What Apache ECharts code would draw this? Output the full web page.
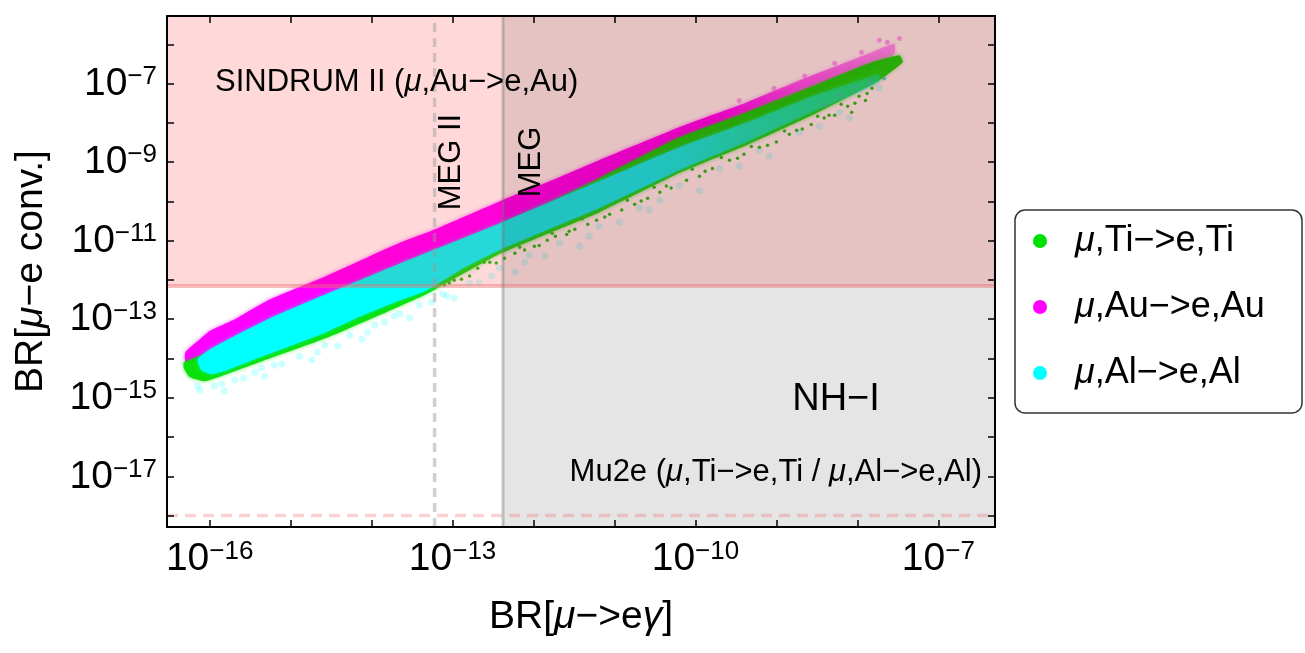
<!DOCTYPE html>
<html><head><meta charset="utf-8">
<script src="https://cdn.jsdelivr.net/npm/echarts@6/dist/echarts.min.js"></script>
<style>html,body{margin:0;padding:0;background:#fff}#c{width:1305px;height:653px}</style>
</head><body><div id="c"></div>
<script>
// ---------- data (log10 of branching ratios) ----------
const xLogRange = [-16.527, -6.30];           // log10 BR(mu->e gamma)
const yLogRange = [-18.29, -5.28];            // log10 BR(mu-e conversion)
const xTickDecades = [-16, -15, -14, -13, -12, -11, -10, -9, -8, -7];
const xLabelDecades = [-16, -13, -10, -7];
const yTickDecades = [-18, -17, -16, -15, -14, -13, -12, -11, -10, -9, -8, -7, -6];
const yLabelDecades = [-17, -15, -13, -11, -9, -7];

const mueGammaLimitNames = ['MEG', 'MEG II'];
const mueGammaLimitValues = [4.2e-13, 6e-14];
const conversionLimitNames = ['SINDRUM II', 'Mu2e'];
const conversionLimitValues = [7e-13, 1e-18];

const seriesNames = ['μ,Ti−>e,Ti', 'μ,Au−>e,Au', 'μ,Al−>e,Al'];

// dense regions of the scan points (outline)
const auBandOutline = [
  [-16.30,-13.84],[-16.12,-13.51],[-16.00,-13.30],[-15.67,-12.98],[-15.26,-12.50],[-14.64,-11.97],
  [-13.65,-11.05],[-13.25,-10.74],[-12.42,-10.00],[-11.84,-9.52],[-11.19,-8.95],[-10.20,-8.11],
  [-9.37,-7.48],[-8.56,-6.79],[-7.82,-6.20],[-7.54,-5.98],
  [-7.54,-6.25],[-7.82,-6.60],[-8.56,-7.30],[-9.37,-7.95],[-10.20,-8.65],[-11.19,-9.55],
  [-12.42,-10.70],[-13.65,-11.80],[-14.64,-12.70],[-15.26,-13.20],[-15.67,-13.55],[-16.00,-13.90],
  [-16.19,-14.06],[-16.30,-14.09]
];
const tiBandOutline = [
  [-16.32,-14.10],[-16.00,-13.84],[-14.64,-12.51],[-13.65,-11.65],[-12.42,-10.63],[-11.19,-9.41],
  [-10.20,-8.37],[-9.37,-7.73],[-8.56,-7.07],[-7.82,-6.46],[-7.48,-6.28],
  [-7.44,-6.46],[-7.73,-6.92],[-8.14,-7.37],[-8.56,-7.81],[-8.96,-8.19],[-9.37,-8.57],[-10.20,-9.28],
  [-11.19,-10.28],[-12.42,-11.34],[-13.32,-12.36],[-13.65,-12.67],[-14.56,-13.48],[-15.38,-14.09],
  [-15.79,-14.40],[-16.06,-14.58],[-16.25,-14.47],[-16.32,-14.24]
];
const alBandOutline = [
  [-16.15,-14.02],[-16.00,-13.77],[-15.67,-13.40],[-15.26,-12.98],[-14.64,-12.43],[-13.65,-11.58],
  [-12.42,-10.56],[-11.19,-9.49],[-10.20,-8.62],[-9.37,-7.99],[-8.56,-7.32],[-7.98,-6.92],[-7.73,-6.76],
  [-7.73,-6.97],[-7.98,-7.22],[-8.56,-7.73],[-9.37,-8.49],[-10.20,-9.21],[-11.19,-10.17],
  [-12.42,-11.24],[-12.91,-11.75],[-13.32,-12.26],[-13.65,-12.52],[-14.15,-12.94],[-14.56,-13.33],
  [-14.98,-13.66],[-15.38,-13.97],[-15.79,-14.30],[-15.98,-14.40],[-16.10,-14.30]
];

// sparse points at the edges of the distributions
const tiEdgePoints = [
  [-13.10,-12.13],[-12.98,-12.01],[-12.79,-11.90],[-12.69,-11.70],[-12.54,-11.55],[-12.36,-11.45],
  [-12.23,-11.32],[-12.11,-11.24],[-11.99,-11.14],[-11.83,-10.99],[-11.73,-10.89],[-11.59,-10.84],
  [-11.49,-10.71],[-11.33,-10.58],[-11.22,-10.48],[-11.06,-10.33],[-10.91,-10.22],[-10.75,-10.07],
  [-10.59,-9.92],[-10.44,-9.77],[-10.30,-9.66],[-10.11,-9.46],[-9.95,-9.36],[-9.79,-9.16],
  [-9.58,-8.95],[-9.40,-8.80],[-9.21,-8.62],[-9.00,-8.49],[-8.84,-8.29],[-8.75,-8.19],
  [-8.57,-8.04],[-8.41,-7.88],[-8.28,-7.81],[-8.12,-7.58],[-7.98,-7.32],[-7.82,-7.12],
  [-7.90,-7.43],[-8.07,-7.73],
  [-13.04,-12.08],[-12.89,-11.98],[-12.61,-11.55],[-12.46,-11.57],[-12.17,-11.17],[-11.93,-11.12],
  [-11.77,-10.81],[-11.56,-10.76],[-11.40,-10.45],[-11.12,-10.40],[-10.84,-9.97],[-10.67,-9.99],
  [-10.51,-9.64],[-10.36,-9.61],[-10.04,-9.18],[-9.88,-9.23],[-9.68,-8.88],[-9.48,-8.90],
  [-9.31,-8.60],[-9.11,-8.57],[-8.90,-8.21],[-8.68,-8.16],[-8.49,-7.83],[-8.35,-7.81],
  [-8.20,-7.53],[-8.03,-7.50],[-7.88,-7.25]
];
const alFaintPoints = [
  [-16.12,-14.80],[-15.94,-14.70],[-15.69,-14.55],[-15.44,-14.35],[-15.20,-14.17],[-14.89,-13.94],
  [-14.58,-13.66],[-14.27,-13.41],[-13.96,-13.15],[-13.65,-12.87],[-13.41,-12.64],[-13.12,-12.36],
  [-12.79,-12.08],[-12.42,-11.70],[-12.05,-11.37],[-11.68,-11.06],[-11.19,-10.63],[-10.69,-10.17],
  [-10.20,-9.61],[-9.70,-9.16],[-9.21,-8.70],[-8.72,-8.24],[-8.22,-7.73],[-7.73,-7.12],
  [-15.82,-14.83],[-15.32,-14.45],[-14.74,-14.04],[-14.12,-13.51],[-13.53,-12.97],[-12.98,-12.46],
  [-12.23,-11.80],[-11.43,-11.14],[-10.44,-9.97],[-9.46,-9.10],[-8.47,-8.09],
  [-16.15,-14.70],[-15.85,-14.65],[-15.58,-14.50],[-15.36,-14.24],[-15.11,-14.14],[-14.67,-13.84],
  [-14.42,-13.68],[-14.05,-13.33],[-13.84,-13.07],[-13.72,-12.92],[-13.26,-12.57],[-13.07,-12.41],
  [-12.67,-12.06],[-12.52,-11.90],[-12.11,-11.55],[-11.86,-11.39],[-11.31,-10.89],[-10.94,-10.53],
  [-10.57,-10.22],[-9.95,-9.72],[-9.09,-8.85],[-8.10,-7.88]
];
const alTopPoints = [
  [-8.22,-7.30],[-8.04,-7.07],[-7.85,-6.97],[-8.41,-7.53],[-7.67,-6.87]
];
const auFaintPoints = [
  [-9.46,-7.43],[-9.03,-7.12],[-8.65,-6.81],[-8.28,-6.48],[-7.95,-6.20],[-7.63,-5.95],
  [-7.48,-5.85],[-7.73,-5.90]
];

// ---------- styles ----------
const FONT = '"Liberation Sans", Arial, Helvetica, sans-serif';
const tiColor = '#00e000', auColor = '#ff00ff', alColor = '#00ffff';

const chart = echarts.init(document.getElementById('c'), null, {renderer: 'canvas'});

function grad(rgb, stops) {
  return new echarts.graphic.LinearGradient(0, 0, 1, 0,
    stops.map(s => ({offset: s[0], color: 'rgba(' + rgb + ',' + s[1] + ')'})));
}
function bandSeries(name, outline, fill, glow, z) {
  return {
    type: 'custom', name: name, coordinateSystem: 'cartesian2d', z: z, clip: true, silent: true,
    data: outline, encode: {x: 0, y: 1},
    renderItem: function (params, api) {
      if (params.dataIndex !== 0) return null;
      return {type: 'polygon', shape: {points: outline.map(p => api.coord(p)), smooth: 0.15},
        style: {fill: fill, shadowBlur: 4, shadowColor: glow}};
    }
  };
}
function pointSeries(name, pts, color, size, opacity, z) {
  return {type: 'scatter', name: name, data: pts, symbol: 'circle', symbolSize: size, z: z, silent: true,
    itemStyle: {color: color, opacity: opacity}};
}

const xLimLog = mueGammaLimitValues.map(v => Math.log10(v));
const yLimLog = conversionLimitValues.map(v => Math.log10(v));
const regionData = [
  [xLogRange[0], xLogRange[1], yLimLog[0], yLogRange[1]],   // SINDRUM II excluded
  [xLimLog[0], xLogRange[1], yLogRange[0], yLogRange[1]]    // MEG excluded
];
const regionFills = ['rgba(255,0,0,0.15)', 'rgba(0,0,0,0.10)'];
const lineData = [
  [xLogRange[0], yLimLog[0], xLogRange[1], yLimLog[0]],
  [xLogRange[0], yLimLog[1], xLogRange[1], yLimLog[1]],
  [xLimLog[0], yLogRange[0], xLimLog[0], yLogRange[1]],
  [xLimLog[1], yLogRange[0], xLimLog[1], yLogRange[1]]
];
const lineStyles = [
  {stroke: 'rgba(235,110,110,0.45)', lineWidth: 4},
  {stroke: 'rgba(235,110,110,0.30)', lineWidth: 3.5, lineDash: [11, 7]},
  {stroke: 'rgba(120,120,120,0.42)', lineWidth: 3},
  {stroke: 'rgba(150,150,150,0.45)', lineWidth: 3.5, lineDash: [9, 6]}
];

const supLabel = v => '{b|10}{s|−' + Math.abs(v) + '}';
const labelRich = {
  b: {fontSize: 39, fontFamily: FONT, color: '#000', lineHeight: 40, verticalAlign: 'bottom'},
  s: {fontSize: 26, fontFamily: FONT, color: '#000', lineHeight: 14, verticalAlign: 'top'}
};
const nameRich = {
  n: {fontSize: 39, fontFamily: FONT, color: '#000'},
  i: {fontSize: 39, fontFamily: FONT, color: '#000', fontStyle: 'italic'}
};

function xAxisDef(pos, main) {
  const a = {
    type: 'value', position: pos, min: xLogRange[0], max: xLogRange[1], z: 50,
    axisLine: {show: true, onZero: false, lineStyle: {color: '#000', width: 2}},
    axisTick: {show: true, inside: true, length: 7, customValues: xTickDecades, lineStyle: {color: '#000', width: 1.5}},
    axisLabel: main ? {show: true, customValues: xLabelDecades, formatter: supLabel, margin: 12, rich: labelRich} : {show: false},
    splitLine: {show: false}
  };
  if (main) {
    a.name = '{n|BR[}{i|μ}{n|−>e}{i|γ}{n|]}';
    a.nameLocation = 'middle'; a.nameGap = 71;
    a.nameTextStyle = {fontSize: 39, fontFamily: FONT, color: '#000', rich: nameRich};
  }
  return a;
}
function yAxisDef(pos, main) {
  const a = {
    type: 'value', position: pos, min: yLogRange[0], max: yLogRange[1], z: 50,
    axisLine: {show: true, onZero: false, lineStyle: {color: '#000', width: 2}},
    axisTick: {show: true, inside: true, length: 7, customValues: yTickDecades, lineStyle: {color: '#000', width: 1.5}},
    axisLabel: main ? {show: true, customValues: yLabelDecades, formatter: supLabel, margin: 10, rich: labelRich} : {show: false},
    splitLine: {show: false}
  };
  if (main) {
    a.name = '{n|BR[}{i|μ}{n|−e conv.]}';
    a.nameLocation = 'middle'; a.nameGap = 116; a.nameRotate = 90;
    a.nameTextStyle = {fontSize: 39, fontFamily: FONT, color: '#000', rich: nameRich};
  }
  return a;
}

const annRich = {
  n: {fontSize: 31, fontFamily: FONT, color: '#000'},
  i: {fontSize: 31, fontFamily: FONT, color: '#000', fontStyle: 'italic'}
};

chart.setOption({
  animation: false,
  grid: {left: 167, right: 310, top: 16, bottom: 126, containLabel: false, outerBoundsMode: 'none'},
  xAxis: [xAxisDef('bottom', true), xAxisDef('top', false)],
  yAxis: [yAxisDef('left', true), yAxisDef('right', false)],
  legend: {
    orient: 'vertical', left: 1033, top: 223, padding: 0, itemWidth: 14, itemHeight: 14, itemGap: 30,
    selectedMode: false,
    data: [
      {name: seriesNames[0], icon: 'circle', itemStyle: {color: tiColor}},
      {name: seriesNames[1], icon: 'circle', itemStyle: {color: auColor}},
      {name: seriesNames[2], icon: 'circle', itemStyle: {color: alColor}}
    ],
    formatter: n => '{sp|}{i|μ}{t|' + n.slice(1) + '}',
    textStyle: {color: '#000', rich: {
      sp: {width: 23},
      i: {fontSize: 36, fontFamily: FONT, color: '#000', fontStyle: 'italic', lineHeight: 38},
      t: {fontSize: 36, fontFamily: FONT, color: '#000', lineHeight: 38}
    }}
  },
  graphic: [
    {type: 'rect', z: 1, shape: {x: 1015, y: 210, width: 287, height: 203, r: 10},
      style: {fill: '#fff', stroke: '#333', lineWidth: 1.5}},
    {type: 'text', z: 100, x: 215, y: 82, style: {text: '{n|' + conversionLimitNames[0] + ' (}{i|μ}{n|,Au−>e,Au)}',
      rich: annRich, align: 'left', verticalAlign: 'middle'}},
    {type: 'text', z: 100, x: 451, y: 162, rotation: Math.PI / 2, style: {text: '{n|' + mueGammaLimitNames[1] + '}',
      rich: annRich, align: 'center', verticalAlign: 'middle'}},
    {type: 'text', z: 100, x: 531, y: 162, rotation: Math.PI / 2, style: {text: '{n|' + mueGammaLimitNames[0] + '}',
      rich: annRich, align: 'center', verticalAlign: 'middle'}},
    {type: 'text', z: 100, x: 836, y: 400, style: {text: 'NH−I', font: '38px ' + FONT, fill: '#000',
      align: 'center', verticalAlign: 'middle'}},
    {type: 'text', z: 100, x: 982, y: 472, style: {text: '{n|' + conversionLimitNames[1] + ' (}{i|μ}{n|,Ti−>e,Ti / }{i|μ}{n|,Al−>e,Al)}',
      rich: annRich, align: 'right', verticalAlign: 'middle'}}
  ],
  series: [
    bandSeries(seriesNames[1], auBandOutline, grad('255,0,255', [[0, 1], [0.74, 1], [0.86, 0.55], [1, 0.3]]), 'rgba(255,0,255,0.6)', 2),
    bandSeries(seriesNames[0], tiBandOutline, 'rgba(0,224,0,0.92)', 'rgba(0,224,0,0.6)', 3),
    bandSeries(seriesNames[2], alBandOutline, grad('0,255,255', [[0, 1], [0.66, 1], [0.82, 0.6], [1, 0.3]]), 'rgba(0,255,255,0.6)', 4),
    pointSeries(seriesNames[2], alFaintPoints, alColor, 7, 0.2, 5),
    pointSeries(seriesNames[2], alTopPoints, '#33d0c0', 4, 0.8, 5),
    pointSeries(seriesNames[1], auFaintPoints, auColor, 5, 0.35, 5),
    pointSeries(seriesNames[0], tiEdgePoints, '#22cc22', 3.5, 1, 6),
    {
      type: 'custom', name: 'regions', coordinateSystem: 'cartesian2d', z: 10, clip: true, silent: true,
      data: regionData, encode: {x: [0, 1], y: [2, 3]},
      renderItem: function (params, api) {
        const p0 = api.coord([api.value(0), api.value(3)]);
        const p1 = api.coord([api.value(1), api.value(2)]);
        return {type: 'rect', shape: {x: p0[0], y: p0[1], width: p1[0] - p0[0], height: p1[1] - p0[1]},
          style: {fill: regionFills[params.dataIndex]}};
      }
    },
    {
      type: 'custom', name: 'limits', coordinateSystem: 'cartesian2d', z: 11, clip: true, silent: true,
      data: lineData, encode: {x: [0, 2], y: [1, 3]},
      renderItem: function (params, api) {
        const p0 = api.coord([api.value(0), api.value(1)]);
        const p1 = api.coord([api.value(2), api.value(3)]);
        return {type: 'line', shape: {x1: p0[0], y1: p0[1], x2: p1[0], y2: p1[1]},
          style: Object.assign({fill: null}, lineStyles[params.dataIndex])};
      }
    }
  ]
});
</script>
</body></html>
